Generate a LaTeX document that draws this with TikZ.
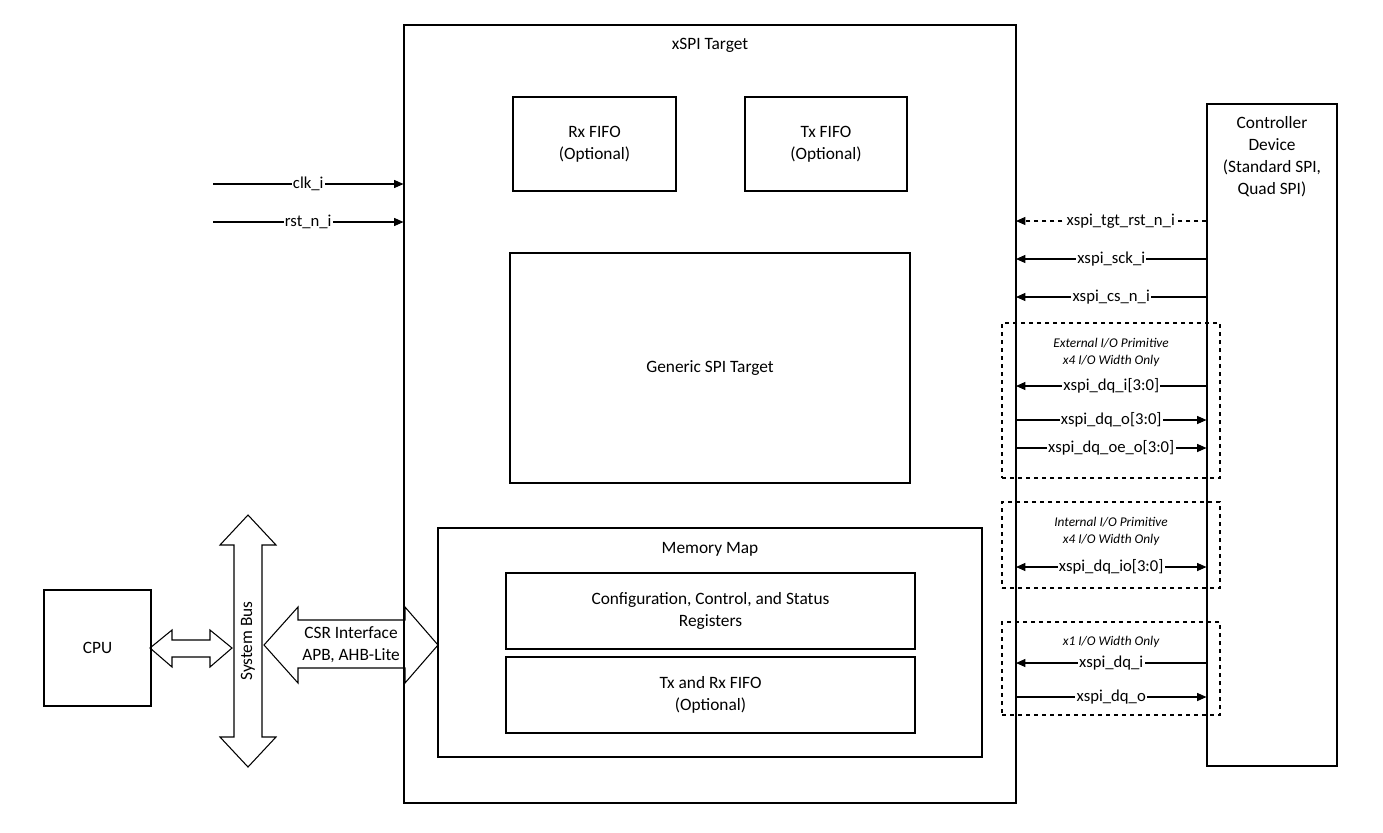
\documentclass[tikz,border=0pt]{standalone}
\usepackage{fontspec}
\setmainfont{Carlito}
\usetikzlibrary{arrows.meta}

\tikzset{
  blk/.style={draw, thick, inner sep=0pt, align=center, font=\fontsize{13}{16.5}\selectfont},
  ttl/.style={inner sep=0pt, align=center, font=\fontsize{13}{16.5}\selectfont},
  grp/.style={draw, dashed, thick},
  sig/.style={thick, -{Triangle[length=7pt,width=6pt]}},
  lbl/.style={fill=white, inner sep=1pt, font=\fontsize{12.5}{14}\selectfont},
  note/.style={font=\itshape\fontsize{10}{12.5}\selectfont, align=center},
  bus/.style={draw, thick, line join=miter},
}

\begin{document}
\begin{tikzpicture}[x=0.75pt, y=-0.75pt]
  \useasboundingbox (0,0) rectangle (1383,832);

  % main blocks
  \node[blk, minimum width=612*0.75pt, minimum height=778*0.75pt] (tgt) at (710,414) {};
  \node[ttl, anchor=north] at (710,38) {xSPI Target};
  \node[blk, minimum width=163*0.75pt, minimum height=94*0.75pt] (rxf) at (594.5,144) {Rx FIFO\\(Optional)};
  \node[blk, minimum width=162*0.75pt, minimum height=94*0.75pt] (txf) at (826,144) {Tx FIFO\\(Optional)};
  \node[blk, minimum width=400*0.75pt, minimum height=230*0.75pt] (gen) at (710,368) {Generic SPI Target};
  \node[blk, minimum width=544*0.75pt, minimum height=229*0.75pt] (mmap) at (710,642.5) {};
  \node[ttl, anchor=north] at (710,542) {Memory Map};
  \node[blk, minimum width=409*0.75pt, minimum height=76*0.75pt] (csr) at (710.5,611) {Configuration, Control, and Status\\Registers};
  \node[blk, minimum width=409*0.75pt, minimum height=76*0.75pt] (fifo) at (710.5,695) {Tx and Rx FIFO\\(Optional)};
  \node[blk, minimum width=107*0.75pt, minimum height=116*0.75pt] (cpu) at (97.5,648) {CPU};
  \node[blk, minimum width=130*0.75pt, minimum height=662*0.75pt] (ctrl) at (1272,435) {};
  \node[ttl, anchor=north] at (1272,116) {Controller\\Device\\(Standard SPI,\\Quad SPI)};

  % buses
  \draw[bus] (248,515) -- (220,545) -- (234,545) -- (234,737) -- (220,737) -- (248,767)
    -- (276,737) -- (262,737) -- (262,545) -- (276,545) -- cycle;
  \node[ttl, rotate=90] (sbus) at (248,641) {System Bus};
  \draw[bus] (150,648) -- (172,630) -- (172,640) -- (210,640) -- (210,630) -- (232,648)
    -- (210,667) -- (210,657) -- (172,657) -- (172,667) -- cycle;
  \draw[bus] (264,645) -- (298,607) -- (298,620) -- (405,620) -- (405,607) -- (438,645)
    -- (405,683) -- (405,668) -- (298,668) -- (298,683) -- cycle;
  \node[ttl] (csrbus) at (351,645) {CSR Interface\\APB, AHB-Lite};

  % clocks and resets
  \coordinate (clk) at (213,184);
  \coordinate (rst) at (213,222);
  \draw[sig] (clk) -- node[lbl] {clk\_i} (clk -| tgt.west);
  \draw[sig] (rst) -- node[lbl] {rst\_n\_i} (rst -| tgt.west);

  % dashed groups
  \node[grp, minimum width=218*0.75pt, minimum height=155*0.75pt] (ext) at (1111,400.5) {};
  \node[grp, minimum width=218*0.75pt, minimum height=86*0.75pt] (int) at (1111,545) {};
  \node[grp, minimum width=218*0.75pt, minimum height=93*0.75pt] (one) at (1111,668.5) {};
  \node[note, anchor=north] at (1111,334) {External I/O Primitive\\x4 I/O Width Only};
  \node[note, anchor=north] at (1111,513) {Internal I/O Primitive\\x4 I/O Width Only};
  \node[note, anchor=north] at (1111,632) {x1 I/O Width Only};

  % controller signals
  \foreach \y/\t in {259/xspi\_sck\_i, 297/xspi\_cs\_n\_i, 386/xspi\_dq\_i[3:0], 663/xspi\_dq\_i} {
    \coordinate (s) at (1016,\y);
    \draw[sig] (s -| ctrl.west) -- node[lbl] {\t} (s);
  }
  \foreach \y/\t in {420/xspi\_dq\_o[3:0], 448/xspi\_dq\_oe\_o[3:0], 697/xspi\_dq\_o} {
    \coordinate (s) at (1016,\y);
    \draw[sig] (s) -- node[lbl] {\t} (s -| ctrl.west);
  }
  \coordinate (io) at (1016,567);
  \draw[sig, {Triangle[length=7pt,width=6pt]}-{Triangle[length=7pt,width=6pt]}] (io) -- node[lbl] {xspi\_dq\_io[3:0]} (io -| ctrl.west);
  \coordinate (trst) at (1016,221);
  \draw[sig, dashed] (trst -| ctrl.west) -- node[lbl, pos=0.45] {xspi\_tgt\_rst\_n\_i} (trst);
\end{tikzpicture}
\end{document}
